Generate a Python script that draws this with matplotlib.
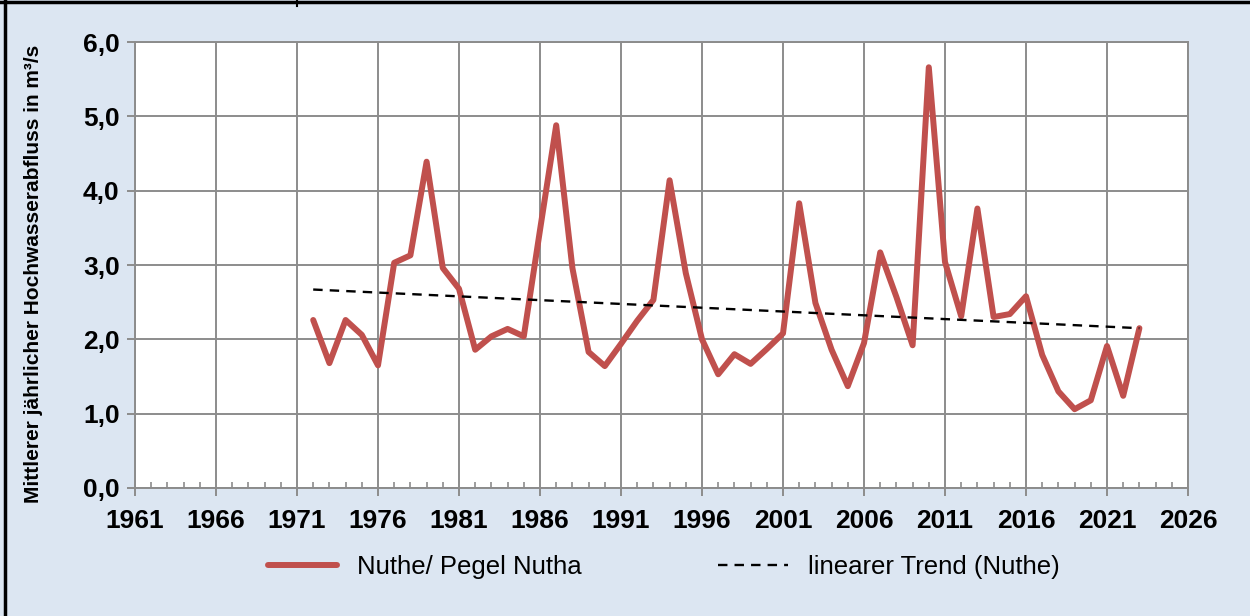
import matplotlib.pyplot as plt
import numpy as np
from matplotlib.ticker import MultipleLocator, FixedLocator, FuncFormatter
from matplotlib.lines import Line2D

plt.rcParams['font.family'] = ['Liberation Sans', 'DejaVu Sans']

# Mittlerer jaehrlicher Hochwasserabfluss, Nuthe / Pegel Nutha
years = list(range(1972, 2024))
flow = [2.26, 1.68, 2.26, 2.06, 1.65, 3.03, 3.13, 4.39, 2.96, 2.68,
        1.86, 2.04, 2.14, 2.04, 3.47, 4.88, 2.96, 1.83, 1.64, 1.94,
        2.25, 2.53, 4.14, 2.89, 2.00, 1.53, 1.80, 1.67, 1.87, 2.08,
        3.83, 2.49, 1.86, 1.37, 1.95, 3.17, 2.57, 1.92, 5.66, 3.04,
        2.31, 3.76, 2.30, 2.34, 2.58, 1.79, 1.30, 1.06, 1.18, 1.91,
        1.24, 2.15]

# linear trend endpoints
trend_years = [1972, 2023]
trend_vals = [2.67, 2.15]

xtick_years = list(range(1961, 2027, 5))

bg = '#dce6f2'
red = '#c0504d'
gridc = '#8c8c8c'

fig = plt.figure(figsize=(12.5, 6.16), dpi=100, facecolor=bg)
ax = fig.add_axes([0.108, 0.2078, 0.8424, 0.724])
ax.set_facecolor('white')

ax.plot(years, flow, color=red, lw=4.3, solid_joinstyle='round',
        solid_capstyle='round', zorder=3)
ax.plot(trend_years, trend_vals, color='black', lw=1.7, ls=(0, (4, 3)), zorder=4)

ax.set_xlim(1961, 2026)
ax.set_ylim(0, 6)
ax.xaxis.set_major_locator(FixedLocator(xtick_years))
ax.xaxis.set_minor_locator(MultipleLocator(1))
ax.yaxis.set_major_locator(MultipleLocator(1))
ax.yaxis.set_major_formatter(FuncFormatter(lambda v, p: f'{v:.1f}'.replace('.', ',')))

ax.grid(True, which='major', color=gridc, lw=1.4)
for s in ax.spines.values():
    s.set_color(gridc)
    s.set_linewidth(1.4)

ax.tick_params(axis='both', which='major', color=gridc, width=1.4, length=6,
               direction='out', labelsize=19, pad=5)
ax.tick_params(axis='x', which='major', pad=9)
ax.tick_params(axis='x', which='minor', color=gridc, width=1.2, length=4,
               direction='in')
for lab in ax.get_xticklabels() + ax.get_yticklabels():
    lab.set_fontweight('bold')

fig.text(0.027, 0.555, 'Mittlerer jährlicher Hochwasserabfluss in m³/s',
         rotation=90, ha='center', va='center', fontsize=15, fontweight='bold')

handles = [Line2D([], [], color=red, lw=4.3, solid_capstyle='round'),
           Line2D([], [], color='black', lw=1.7, ls=(0, (4, 3)))]
fig.legend(handles, ['Nuthe/ Pegel Nutha', 'linearer Trend (Nuthe)'],
           loc='center', bbox_to_anchor=(0.531, 0.08), ncol=2, frameon=False,
           fontsize=18.5, handlelength=2.7, handletextpad=0.8, columnspacing=5.3)

# frame lines of the original picture
fig.add_artist(Line2D([0.004, 0.004], [0, 1], color='black', lw=2.5,
                      transform=fig.transFigure))
fig.add_artist(Line2D([0, 1], [0.9965, 0.9965], color='black', lw=2.5,
                      transform=fig.transFigure))
fig.add_artist(Line2D([0.2375, 0.2375], [0.99, 1], color='black', lw=1.5,
                      transform=fig.transFigure))

fig.savefig('out.png', dpi=100, facecolor=bg)
